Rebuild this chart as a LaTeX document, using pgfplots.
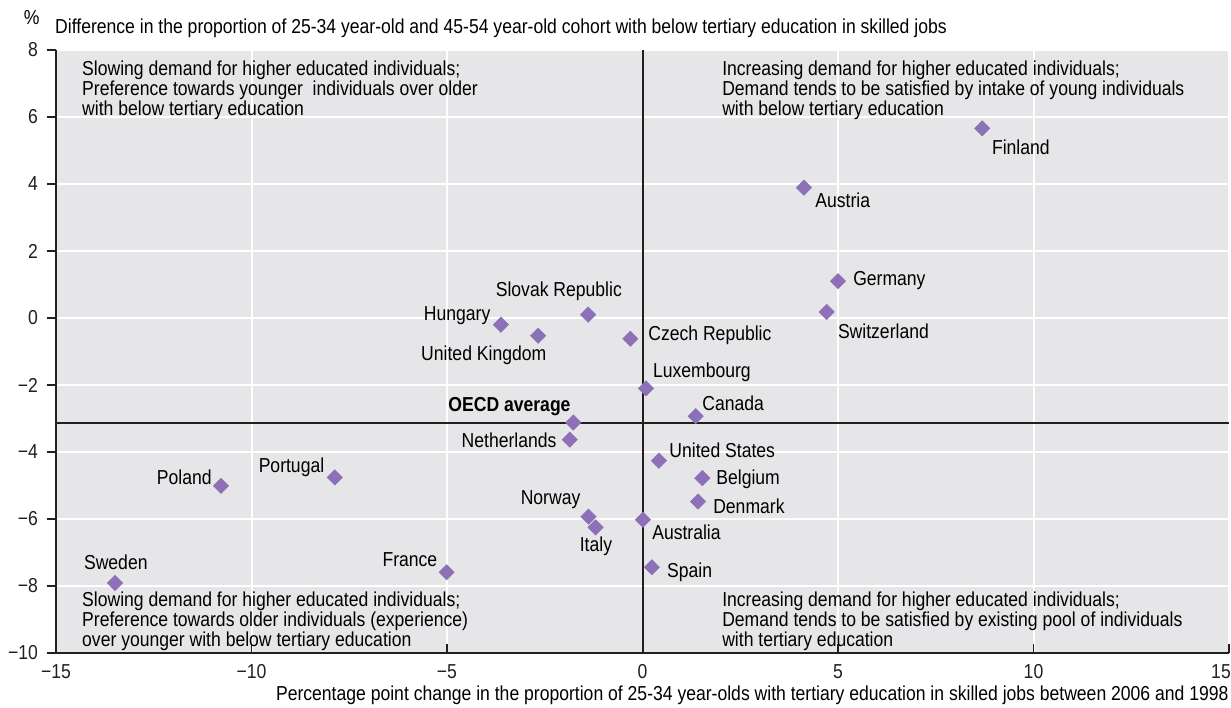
\documentclass[border=0pt]{standalone}
\usepackage{fontspec}
\setmainfont{Liberation Sans}[FakeStretch=0.87]
\usepackage{pgfplots}
\pgfplotsset{compat=1.18}
\definecolor{bgc}{RGB}{230,230,232}
\definecolor{mk}{RGB}{141,112,183}
\definecolor{txt}{RGB}{35,31,32}
\newcommand{\fs}{\fontsize{10.1}{10}\selectfont}
\begin{document}
\fs
\begin{tikzpicture}
\begin{axis}[
  scale only axis, width=586.5pt, height=301.5pt,
  xmin=-15, xmax=15, ymin=-10, ymax=8,
  clip=false,
  axis background/.style={fill=bgc},
  axis x line*=bottom, axis y line*=left,
  axis line style={-, txt, line width=0.8pt},
  xtick={-15,-10,-5,0,5,10,15},
  xticklabels={−15,−10,−5,0,5,10,15\hspace*{8pt}},
  ytick={-10,-8,-6,-4,-2,0,2,4,6,8},
  yticklabels={−10,−8,−6,−4,−2,0,2,4,6,8},
  xtick align=inside, ytick align=outside,
  major tick length=4.5pt,
  tick style={txt, line width=0.6pt},
  grid=major, major grid style={white, line width=1pt},
  tick label style={font=\fs, text=txt},
  xticklabel style={yshift=-2pt},
  yticklabel style={xshift=-1pt},
  every node/.append style={text=txt, font=\fs},
]
\addplot[txt, line width=1pt, forget plot] coordinates {(0,-10) (0,8)};
\addplot[txt, line width=1pt, forget plot] coordinates {(-15,-3.13) (15,-3.13)};
\addplot[only marks, mark=square*, mark size=2.65pt, mark options={rotate=45, fill=mk, draw=mk}] coordinates {
(8.69,5.66) (4.13,3.89) (5.00,1.10) (4.71,0.18)
(-1.39,0.10) (-3.62,-0.20) (-2.67,-0.53) (-0.31,-0.62)
(0.09,-2.10) (1.36,-2.93) (-1.77,-3.12) (-1.86,-3.63)
(0.42,-4.26) (1.53,-4.78) (1.42,-5.48) (0.01,-6.02)
(0.24,-7.44) (-1.38,-5.93) (-1.20,-6.25)
(-10.78,-5.01) (-7.87,-4.76) (-5.01,-7.59) (-13.49,-7.91)
};
% country labels
\node[anchor=west, inner sep=0] at (axis cs:8.93,5.10) {Finland};
\node[anchor=west, inner sep=0] at (axis cs:4.41,3.52) {Austria};
\node[anchor=west, inner sep=0] at (axis cs:5.38,1.13) {Germany};
\node[anchor=west, inner sep=0] at (axis cs:4.99,-0.39) {Switzerland};
\node[inner sep=0] at (axis cs:-2.14,0.81) {Slovak Republic};
\node[anchor=east, inner sep=0] at (axis cs:-3.88,0.06) {Hungary};
\node[inner sep=0] at (axis cs:-4.06,-1.10) {United Kingdom};
\node[anchor=west, inner sep=0] at (axis cs:0.14,-0.51) {Czech Republic};
\node[anchor=west, inner sep=0] at (axis cs:0.26,-1.61) {Luxembourg};
\node[anchor=west, inner sep=0] at (axis cs:1.52,-2.54) {Canada};
\node[anchor=east, inner sep=0, font=\fs\bfseries] at (axis cs:-1.83,-2.63) {OECD average};
\node[anchor=east, inner sep=0] at (axis cs:-2.19,-3.64) {Netherlands};
\node[anchor=west, inner sep=0] at (axis cs:0.68,-3.94) {United States};
\node[anchor=west, inner sep=0] at (axis cs:1.88,-4.81) {Belgium};
\node[anchor=west, inner sep=0] at (axis cs:1.80,-5.61) {Denmark};
\node[anchor=west, inner sep=0] at (axis cs:0.24,-6.39) {Australia};
\node[anchor=west, inner sep=0] at (axis cs:0.62,-7.58) {Spain};
\node[anchor=east, inner sep=0] at (axis cs:-1.58,-5.43) {Norway};
\node[inner sep=0] at (axis cs:-1.19,-6.81) {Italy};
\node[anchor=east, inner sep=0] at (axis cs:-11.01,-4.75) {Poland};
\node[anchor=east, inner sep=0] at (axis cs:-8.13,-4.45) {Portugal};
\node[anchor=east, inner sep=0] at (axis cs:-5.24,-7.22) {France};
\node[inner sep=0] at (axis cs:-13.47,-7.28) {Sweden};
% quadrant texts
\node[anchor=north west, inner sep=0, align=left] at (axis cs:-14.34,7.70) {Slowing demand for higher educated individuals;\\Preference towards younger\ \ individuals over older\\with below tertiary education};
\node[anchor=north west, inner sep=0, align=left] at (axis cs:2.03,7.70) {Increasing demand for higher educated individuals;\\Demand tends to be satisfied by intake of young individuals\\with below tertiary education};
\node[anchor=north west, inner sep=0, align=left] at (axis cs:-14.34,-8.15) {Slowing demand for higher educated individuals;\\Preference towards older individuals (experience)\\over younger with below tertiary education};
\node[anchor=north west, inner sep=0, align=left] at (axis cs:2.03,-8.15) {Increasing demand for higher educated individuals;\\Demand tends to be satisfied by existing pool of individuals\\with tertiary education};
% axis titles
\node[inner sep=0] at (axis cs:-15.62,8.96) {\%};
\node[anchor=west, inner sep=0] at (axis cs:-15.03,8.66) {Difference in the proportion of 25-34 year-old and 45-54 year-old cohort with below tertiary education in skilled jobs};
\node[anchor=east, inner sep=0] at (axis cs:15.0,-11.25) {Percentage point change in the proportion of 25-34 year-olds with tertiary education in skilled jobs between 2006 and 1998};
\end{axis}
\pgfresetboundingbox
\path (current axis.south west) ++(-28pt,-27pt) rectangle ++(615.5pt,353.5pt);
\end{tikzpicture}
\end{document}
